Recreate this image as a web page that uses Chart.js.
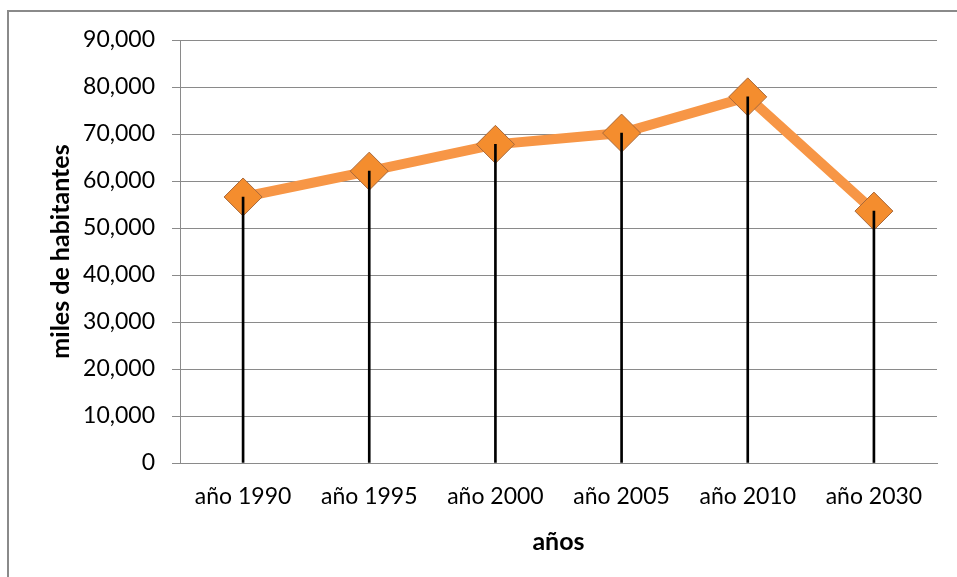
<!DOCTYPE html>
<html>
<head>
<meta charset="utf-8">
<script src="https://cdn.jsdelivr.net/npm/chart.js@4"></script>
<style>
  html, body { margin: 0; padding: 0; background: #fff; overflow: hidden; }
  #wrap { position: relative; width: 957px; height: 577px; }
  #frame { position: absolute; left: 7px; top: 10px; width: 1000px; height: 600px;
           border: 2px solid #8a8a8a; box-sizing: border-box; }
  canvas { position: absolute; left: 0; top: 0; }
</style>
</head>
<body>
<div id="wrap">
  <div id="frame"></div>
  <canvas id="chart" width="957" height="577"></canvas>
</div>
<script>
// Population data (thousands of inhabitants)
const years = ['año 1990', 'año 1995', 'año 2000', 'año 2005', 'año 2010', 'año 2030'];
const population = [56600, 62100, 67800, 70200, 77900, 53600];

const fontFamily = 'Lato, "Open Sans", sans-serif';

const ctx = document.getElementById('chart').getContext('2d');

new Chart(ctx, {
  data: {
    labels: years,
    datasets: [
      {
        // drop lines from each point down to the axis
        type: 'bar',
        data: population,
        backgroundColor: '#000',
        barThickness: 2,
        order: 0
      },
      {
        type: 'line',
        data: population,
        borderColor: '#f79646',
        borderWidth: 10,
        pointStyle: 'rectRot',
        pointRadius: 19,
        pointBackgroundColor: '#f48d2e',
        pointBorderColor: '#a8683a',
        pointBorderWidth: 1,
        tension: 0,
        order: 1
      }
    ]
  },
  options: {
    responsive: false,
    animation: false,
    layout: { padding: { top: 40, right: 19, bottom: 0, left: 42 } },
    plugins: {
      legend: { display: false },
      tooltip: { enabled: false }
    },
    scales: {
      x: {
        offset: true,
        grid: { display: false },
        border: { color: '#8a8a8a', width: 1 },
        ticks: { color: '#000', padding: 12, font: { family: fontFamily, size: 23 } },
        title: {
          display: true,
          text: 'años',
          color: '#000',
          padding: { top: 10, bottom: 20 },
          font: { family: fontFamily, size: 25, weight: 'bold' }
        },
        afterFit: s => { s.height = 114; }
      },
      y: {
        min: 0,
        max: 90000,
        ticks: {
          stepSize: 10000,
          color: '#000',
          padding: 17,
          font: { family: fontFamily, size: 23 },
          callback: v => v.toLocaleString('en-US')
        },
        grid: { color: '#8a8a8a', lineWidth: 1, tickLength: 8 },
        border: { color: '#8a8a8a', width: 1 },
        title: {
          display: true,
          text: 'miles de habitantes',
          color: '#000',
          padding: { bottom: 2 },
          font: { family: fontFamily, size: 25, weight: 'bold' }
        },
        afterFit: s => { s.width = 138; }
      }
    }
  }
});
</script>
</body>
</html>
